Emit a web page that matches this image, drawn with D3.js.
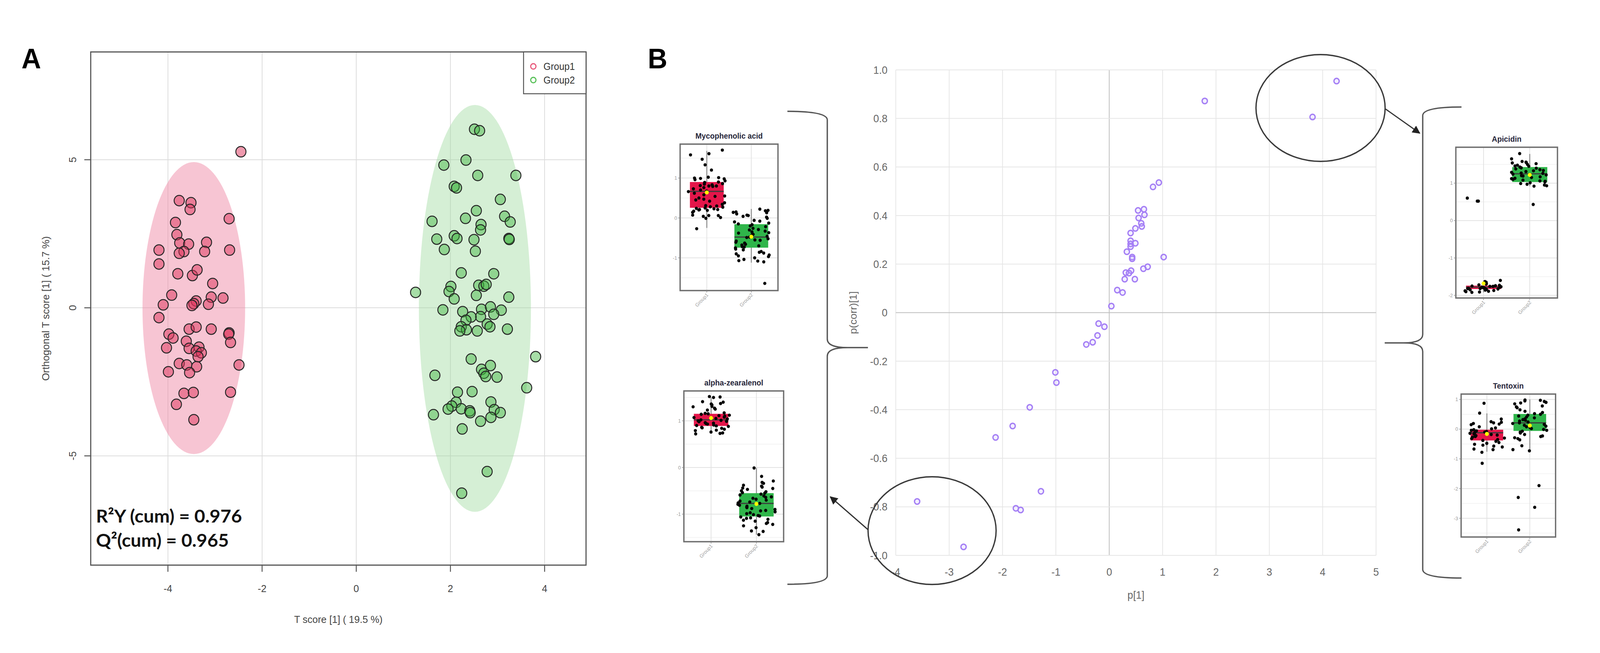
<!DOCTYPE html>
<html><head><meta charset="utf-8">
<script src="https://cdn.jsdelivr.net/npm/d3@7"></script>
<style>html,body{margin:0;padding:0;background:#fff;overflow:hidden;width:100%;height:100%}svg{display:block}</style>
</head><body>
<svg id="c" viewBox="0 0 4251 1672" preserveAspectRatio="none" style="width:100vw;height:100vh"></svg>
<script>
// ===================== DATA =====================
// Panel A : OPLS-DA scores
const groupNames = ["Group1", "Group2"];
const g1T = [-2.45,-3.76,-3.51,-3.53,-2.70,-3.84,-3.81,-3.75,-3.56,-3.18,-4.19,-2.69,-3.66,-3.76,-3.22,-4.19,-3.79,-3.48,-3.38,-3.05,-3.92,-3.08,-2.83,-4.10,-3.40,-3.45,-3.49,-3.14,-4.19,-3.55,-3.40,-3.08,-2.70,-2.71,-3.98,-3.89,-2.67,-3.61,-4.03,-3.55,-3.34,-3.40,-3.29,-3.36,-3.76,-3.60,-3.39,-2.49,-3.99,-3.54,-3.66,-3.46,-2.67,-3.82,-3.45];
const g1O = [5.27,3.62,3.55,3.32,3.01,2.88,2.47,2.19,2.15,2.21,1.95,1.95,1.90,1.84,1.90,1.48,1.15,1.09,1.28,0.82,0.43,0.36,0.33,0.10,0.23,0.14,0.08,0.12,-0.33,-0.72,-0.65,-0.72,-0.85,-0.89,-0.89,-1.02,-1.17,-1.13,-1.35,-1.37,-1.33,-1.46,-1.52,-1.65,-1.88,-1.93,-1.99,-1.93,-2.16,-2.19,-2.89,-2.86,-2.85,-3.26,-3.78];
const g2T = [2.51,2.62,2.33,1.86,2.58,3.39,2.08,2.13,3.06,2.55,1.61,2.32,3.15,3.27,2.65,2.64,2.08,2.14,1.71,2.50,3.24,3.25,1.87,2.53,2.23,2.92,2.60,2.71,2.76,2.01,1.26,1.97,2.08,2.55,3.24,1.84,2.26,2.66,2.85,3.08,2.64,2.92,2.44,2.33,2.23,2.34,2.20,2.57,2.78,2.84,3.21,3.81,2.44,1.67,2.66,2.85,2.71,2.75,2.99,3.62,2.15,2.46,2.12,2.03,1.95,2.23,2.41,2.42,2.86,2.93,3.06,1.64,2.86,2.64,2.25,2.78,2.24];
const g2O = [6.03,5.98,4.99,4.82,4.47,4.47,4.10,4.05,3.66,3.28,2.92,3.02,3.09,2.90,2.81,2.63,2.43,2.34,2.32,2.30,2.34,2.31,1.97,1.91,1.18,1.15,0.76,0.73,0.79,0.72,0.52,0.55,0.30,0.42,0.36,-0.07,-0.13,-0.05,0.03,-0.08,-0.30,-0.22,-0.31,-0.42,-0.64,-0.74,-0.78,-0.78,-0.55,-0.64,-0.72,-1.65,-1.73,-2.28,-2.08,-1.95,-2.21,-2.32,-2.34,-2.70,-2.85,-2.83,-3.19,-3.32,-3.42,-3.41,-3.48,-3.54,-3.18,-3.44,-3.54,-3.61,-3.70,-3.83,-4.09,-5.53,-6.26];
const ellCx = [-3.45, 2.52], ellCy = [-0.01, -0.02], ellRx = [1.09, 1.19], ellRy = [4.93, 6.87];
const ticksAx = [-4, -2, 0, 2, 4];
const ticksAy = [-5, 0, 5];
const statLines = ["R\u00B2Y (cum) = 0.976", "Q\u00B2(cum) = 0.965"];
const labelAx = "T score [1] ( 19.5 %)";
const labelAy = "Orthogonal T score [1] ( 15.7 %)";

// Panel B : S-plot
const pX    = [1.79,4.26,3.81,0.93,0.82,0.54,0.65,0.66,0.55,0.60,0.61,0.49,0.40,0.40,0.40,0.49,0.40,0.33,0.43,0.43,1.02,0.72,0.64,0.31,0.41,0.37,0.29,0.48,0.15,0.25,0.04,-0.20,-0.09,-0.22,-0.31,-0.43,-1.01,-0.99,-1.49,-1.81,-2.13,-1.28,-1.75,-1.66,-3.60,-2.73];
const pCorr = [0.872,0.954,0.806,0.536,0.518,0.421,0.426,0.403,0.390,0.368,0.355,0.347,0.328,0.296,0.283,0.286,0.272,0.251,0.229,0.222,0.229,0.189,0.181,0.165,0.173,0.163,0.138,0.138,0.093,0.083,0.027,-0.045,-0.058,-0.094,-0.122,-0.131,-0.246,-0.288,-0.390,-0.467,-0.514,-0.736,-0.806,-0.813,-0.778,-0.965];
const ticksBx = [-4,-3,-2,-1,0,1,2,3,4,5];
const ticksBy = [-1,-0.8,-0.6,-0.4,-0.2,0,0.2,0.4,0.6,0.8,1];
const circCx = [3.96, -3.32], circCy = [0.843, -0.898], circRx = [1.21, 1.20], circRy = [0.22, 0.222];

// Insets : box plots
const insetNames = ["Mycophenolic acid", "alpha-zearalenol", "Apicidin", "Tentoxin"];
const mycoG1 = [1.70,1.58,1.61,1.47,1.33,1.20,1.00,0.99,1.02,0.98,1.01,0.96,0.93,0.90,0.89,0.86,0.85,0.83,0.81,0.80,0.80,0.79,0.76,0.73,0.70,0.67,0.66,0.62,0.58,0.55,0.54,0.50,0.47,0.45,0.42,0.38,0.34,0.31,0.30,0.28,0.27,0.25,0.24,0.23,0.21,0.20,0.19,0.17,0.14,0.21,0.07,0.06,0.06,0.04,0.01,-0.01,-0.27];
const mycoG2 = [0.22,0.19,0.18,0.15,0.13,0.14,0.10,0.07,0.06,0.04,0.02,-0.01,-0.06,-0.08,-0.10,-0.13,-0.15,-0.17,-0.20,-0.22,-0.26,-0.29,-0.30,-0.33,-0.35,-0.37,-0.38,-0.41,-0.43,-0.46,-0.48,-0.49,-0.52,-0.55,-0.56,-0.58,-0.61,-0.63,-0.66,-0.68,-0.70,-0.72,-0.73,-0.75,-0.78,-0.80,-0.84,-0.86,-0.88,-0.90,-0.93,-0.95,-0.97,-1.00,-1.04,-1.07,-1.08,-1.10,-1.64];
const zearG1 = [1.51,1.50,1.52,1.41,1.40,1.37,1.36,1.34,1.31,1.30,1.27,1.25,1.23,1.17,1.16,1.15,1.14,1.12,1.11,1.10,1.08,1.07,1.05,1.04,1.02,1.01,1.00,0.99,0.98,0.96,0.95,0.94,0.93,0.91,0.90,0.89,0.88,0.86,0.85,0.84,0.82,0.80,0.79,0.76,0.74,0.73,0.72];
const zearG2 = [-0.01,-0.19,-0.29,-0.32,-0.34,-0.38,-0.40,-0.42,-0.44,-0.45,-0.47,-0.50,-0.52,-0.54,-0.55,-0.57,-0.59,-0.61,-0.63,-0.64,-0.66,-0.68,-0.70,-0.72,-0.74,-0.76,-0.77,-0.79,-0.81,-0.83,-0.85,-0.86,-0.88,-0.90,-0.92,-0.93,-0.95,-0.97,-0.99,-1.01,-1.03,-1.04,-1.06,-1.08,-1.09,-1.11,-1.13,-1.15,-1.18,-1.20,-1.22,-1.25,-1.29,-1.36,-1.37,-1.44];
const apiG1 = [0.60,0.52,0.52,-1.60,-1.63,-1.65,-1.67,-1.69,-1.70,-1.72,-1.73,-1.74,-1.75,-1.76,-1.76,-1.77,-1.78,-1.78,-1.79,-1.80,-1.80,-1.81,-1.82,-1.82,-1.83,-1.84,-1.85,-1.86,-1.87,-1.88,-1.89,-1.90,-1.91,-1.92];
const apiG2 = [1.79,1.65,1.58,1.56,1.55,1.54,1.52,1.50,1.48,1.46,1.45,1.43,1.41,1.40,1.38,1.36,1.34,1.33,1.31,1.29,1.27,1.26,1.24,1.22,1.20,1.19,1.17,1.15,1.13,1.12,1.10,1.08,1.06,1.05,1.03,1.01,0.99,0.97,0.95,0.93,0.92,0.43];
const tenG1 = [0.87,0.54,0.34,0.25,0.23,0.21,0.19,0.17,0.15,0.08,0.04,0.01,-0.02,-0.04,-0.06,-0.08,-0.10,-0.12,-0.14,-0.16,-0.18,-0.20,-0.22,-0.25,-0.27,-0.30,-0.32,-0.35,-0.38,-0.41,-0.45,-0.48,-0.51,-0.54,-0.57,-0.60,-0.67,-0.69,-0.78,-1.15];
const tenG2 = [0.98,0.97,0.95,0.93,0.90,0.88,0.85,0.78,0.75,0.72,0.65,0.60,0.56,0.52,0.50,0.47,0.44,0.41,0.38,0.35,0.32,0.30,0.27,0.24,0.21,0.19,0.16,0.13,0.10,0.08,0.05,0.02,-0.01,-0.04,-0.07,-0.10,-0.13,-0.18,-0.23,-0.25,-0.29,-0.32,-0.36,-0.56,-0.69,-0.73,-1.90,-2.30,-2.63,-3.39];
const insetQ1   = [[0.255,-0.745],[0.89,-1.05],[-1.83,1.03],[-0.38,-0.06]];
const insetMed  = [[0.667,-0.48],[1.02,-0.77],[-1.78,1.25],[-0.12,0.21]];
const insetQ3   = [[0.90,-0.157],[1.15,-0.55],[-1.74,1.43],[-0.02,0.51]];
const insetLo   = [[-0.25,-1.12],[0.78,-1.44],[-1.92,0.92],[-0.76,-0.73]];
const insetHi   = [[1.68,0.225],[1.50,-0.01],[-1.60,1.78],[0.53,1.00]];
const insetMean = [[0.64,-0.47],[1.06,-0.78],[-1.68,1.22],[-0.16,0.12]];
const insetTicks = [[-1,0,1],[-1,0,1],[-2,-1,0,1],[-3,-2,-1,0,1]];
const insetDomains = [[-1.82,1.85],[-1.59,1.64],[-2.07,1.96],[-3.63,1.18]];

// ===================== LAYOUT =====================
const svg = d3.select("#c");
const SANS = "'Liberation Sans', Arial, sans-serif";

// ---------- Panel labels ----------
svg.append("text").attr("x",83).attr("y",175).attr("text-anchor","middle")
  .attr("font-family",SANS).attr("font-weight","bold").attr("font-size",72).text("A");
svg.append("text").attr("x",1747).attr("y",175).attr("text-anchor","middle")
  .attr("font-family",SANS).attr("font-weight","bold").attr("font-size",72).text("B");

// ---------- Panel A ----------
(function(){
  const L=241,R=1557,T=133,B=1447;
  const x=d3.scaleLinear().domain([-5.64,4.88]).range([L,R]);
  const y=d3.scaleLinear().domain([-8.69,8.64]).range([B,T]);
  const g=svg.append("g");
  g.selectAll(".gx").data(ticksAx).join("line").attr("x1",d=>x(d)).attr("x2",d=>x(d))
    .attr("y1",T).attr("y2",B).attr("stroke","#dcdcdc").attr("stroke-width",2);
  g.selectAll(".gy").data(ticksAy).join("line").attr("y1",d=>y(d)).attr("y2",d=>y(d))
    .attr("x1",L).attr("x2",R).attr("stroke","#dcdcdc").attr("stroke-width",2);
  const ellFill=["#ee86a2","#9ad89a"], ellOp=[0.48,0.42];
  g.selectAll(".ell").data(d3.range(2)).join("ellipse")
    .attr("cx",i=>x(ellCx[i])).attr("cy",i=>y(ellCy[i]))
    .attr("rx",i=>x(ellCx[i]+ellRx[i])-x(ellCx[i]))
    .attr("ry",i=>y(ellCy[i])-y(ellCy[i]+ellRy[i]))
    .attr("fill",i=>ellFill[i]).attr("fill-opacity",i=>ellOp[i]);
  const pts=[{t:g1T,o:g1O,c:"rgba(222,52,92,0.5)"},{t:g2T,o:g2O,c:"rgba(60,180,60,0.45)"}];
  pts.forEach(s=>{
    g.selectAll(null).data(d3.range(s.t.length)).join("circle")
      .attr("cx",i=>x(s.t[i])).attr("cy",i=>y(s.o[i])).attr("r",13.5)
      .attr("fill",s.c).attr("stroke","#262626").attr("stroke-width",2.5);
  });
  g.append("rect").attr("x",L).attr("y",T).attr("width",R-L).attr("height",B-T)
    .attr("fill","none").attr("stroke","#555").attr("stroke-width",3);
  g.selectAll(".tx").data(ticksAx).join("line").attr("x1",d=>x(d)).attr("x2",d=>x(d))
    .attr("y1",B).attr("y2",B+17).attr("stroke","#555").attr("stroke-width",2.5);
  g.selectAll(".ty").data(ticksAy).join("line").attr("y1",d=>y(d)).attr("y2",d=>y(d))
    .attr("x1",L).attr("x2",L-17).attr("stroke","#555").attr("stroke-width",2.5);
  g.selectAll(".lx").data(ticksAx).join("text").attr("x",d=>x(d)).attr("y",1516)
    .attr("text-anchor","middle").attr("font-family",SANS).attr("font-size",26).attr("fill","#444")
    .text(d=>d<0?"-"+Math.abs(d):d);
  g.selectAll(".ly").data(ticksAy).join("text")
    .attr("transform",d=>`translate(202,${y(d)}) rotate(-90)`)
    .attr("text-anchor","middle").attr("font-family",SANS).attr("font-size",26).attr("fill","#444")
    .text(d=>d<0?"-"+Math.abs(d):d);
  g.append("text").attr("x",(L+R)/2).attr("y",1595).attr("text-anchor","middle")
    .attr("font-family",SANS).attr("font-size",26).attr("fill","#444").text(labelAx);
  g.append("text").attr("transform",`translate(131,${(T+B)/2}) rotate(-90)`).attr("text-anchor","middle")
    .attr("font-family",SANS).attr("font-size",26).attr("fill","#444").text(labelAy);
  const stW=[388,353];
  statLines.forEach((s,i)=>{
    g.append("text").attr("x",255).attr("y",1338+i*62).attr("font-family","Lato, 'Open Sans', sans-serif")
      .attr("font-weight",700).attr("font-size",46).attr("fill","#111")
      .attr("textLength",stW[i]).attr("lengthAdjust","spacingAndGlyphs").text(s);
  });
  g.append("rect").attr("x",1391).attr("y",T).attr("width",R-1391).attr("height",107)
    .attr("fill","#fff").attr("stroke","#555").attr("stroke-width",2.5);
  const legC=["#e8587a","#57c057"];
  groupNames.forEach((n,i)=>{
    g.append("circle").attr("cx",1417).attr("cy",170+i*35).attr("r",7)
      .attr("fill","none").attr("stroke",legC[i]).attr("stroke-width",3);
    g.append("text").attr("x",1444).attr("y",179+i*35).attr("font-family",SANS)
      .attr("font-size",25).attr("fill","#333").text(n);
  });
})();

// ---------- Panel B ----------
(function(){
  const L=2380,R=3656,T=179,B=1422;
  const x=d3.scaleLinear().domain([-4,5]).range([L,R]);
  const y=d3.scaleLinear().domain([-1,1]).range([B,T]);
  const g=svg.append("g");
  g.selectAll(".gx").data(ticksBx).join("line").attr("x1",d=>x(d)).attr("x2",d=>x(d))
    .attr("y1",T).attr("y2",B).attr("stroke",d=>d===0?"#bdbdbd":"#e6e6e6").attr("stroke-width",2);
  g.selectAll(".gy").data(ticksBy).join("line").attr("y1",d=>y(d)).attr("y2",d=>y(d))
    .attr("x1",L).attr("x2",R).attr("stroke",d=>Math.abs(d)<1e-9?"#bdbdbd":"#e6e6e6").attr("stroke-width",2);
  const fmtY=d=>Math.abs(d)<1e-9?"0":d3.format(".1f")(d).replace("\u2212","-");
  g.selectAll(".ly").data(ticksBy).join("text").attr("x",L-22).attr("y",d=>y(d)).attr("dy","0.36em")
    .attr("text-anchor","end").attr("font-family",SANS).attr("font-size",27).attr("fill","#666").text(fmtY);
  g.selectAll(".lx").data(ticksBx).join("text").attr("x",d=>x(d)).attr("y",1464).attr("dy","0.36em")
    .attr("text-anchor","middle").attr("font-family",SANS).attr("font-size",27).attr("fill","#666")
    .text(d=>d<0?"-"+Math.abs(d):d);
  g.append("text").attr("x",(L+R)/2).attr("y",1523).attr("dy","0.36em").attr("text-anchor","middle")
    .attr("font-family",SANS).attr("font-size",27).attr("fill","#666").text("p[1]");
  g.append("text").attr("transform",`translate(2266,${(T+B)/2}) rotate(-90)`).attr("dy","0.36em")
    .attr("text-anchor","middle").attr("font-family",SANS).attr("font-size",27).attr("fill","#666").text("p(corr)[1]");
  g.selectAll(".pt").data(d3.range(pX.length)).join("circle")
    .attr("cx",i=>x(pX[i])).attr("cy",i=>y(pCorr[i])).attr("r",7)
    .attr("fill","rgba(190,165,255,0.18)").attr("stroke","#a47ef5").attr("stroke-width",3.5);
  g.selectAll(".ann").data(d3.range(2)).join("ellipse")
    .attr("cx",i=>x(circCx[i])).attr("cy",i=>y(circCy[i]))
    .attr("rx",i=>x(circCx[i]+circRx[i])-x(circCx[i]))
    .attr("ry",i=>y(circCy[i])-y(circCy[i]+circRy[i]))
    .attr("fill","none").attr("stroke","#3a3a3a").attr("stroke-width",3.5);
})();

// ---------- arrows & braces ----------
(function(){
  const defs=svg.append("defs");
  defs.append("marker").attr("id","ah").attr("viewBox","0 0 10 10").attr("refX",9).attr("refY",5)
    .attr("markerWidth",7).attr("markerHeight",7).attr("orient","auto").attr("markerUnits","strokeWidth")
    .append("path").attr("d","M0,0 L10,5 L0,10 z").attr("fill","#222");
  const arrows=[[3681,279,3772,341],[2306,1356,2206,1272]];
  arrows.forEach(a=>svg.append("line").attr("x1",a[0]).attr("y1",a[1]).attr("x2",a[2]).attr("y2",a[3])
    .attr("stroke","#333").attr("stroke-width",3).attr("marker-end","url(#ah)"));
  function brace(xe,xv,xt,yt,yb,ym){
    const d=`M${xe},${yt} Q${xv},${yt} ${xv},${yt+22} L${xv},${ym-22} Q${xv},${ym} ${(xv+xt)/2},${ym} L${xt},${ym}`+
      ` M${xt},${ym} L${(xv+xt)/2},${ym} Q${xv},${ym} ${xv},${ym+22} L${xv},${yb-22} Q${xv},${yb} ${xe},${yb}`;
    svg.append("path").attr("d",d).attr("fill","none").attr("stroke","#555").attr("stroke-width",3.5);
  }
  brace(2092,2198,2306,285,1496,890);
  brace(3883,3780,3679,274,1480,878);
})();

// ---------- Insets ----------
(function(){
  const boxes=[[1807,369,2067,744],[1817,1001,2082,1387],[3868,377,4138,763],[3882,1009,4133,1375]];
  const vals=[[mycoG1,mycoG2],[zearG1,zearG2],[apiG1,apiG2],[tenG1,tenG2]];
  const fills=["#e4164a","#2fb54a"];
  // deterministic jitter (horizontal spread only, like geom_jitter)
  const jit=(i,k,j)=>{const s=Math.sin((i+1)*12.9898+k*78.233+j*37.719)*43758.5453;return (s-Math.floor(s))-0.5;};
  boxes.forEach((b,k)=>{
    const [x0,y0,x1,y1]=b;
    const g=svg.append("g");
    const x=d3.scalePoint().domain(groupNames).range([x0,x1]).padding(0.6);
    const y=d3.scaleLinear().domain(insetDomains[k]).range([y1,y0]);
    const step=x.step(), bw=0.76*step;
    const tk=insetTicks[k];
    const minor=tk.map(t=>t+0.5).concat([tk[0]-0.5]).filter(v=>v>insetDomains[k][0]&&v<insetDomains[k][1]);
    g.append("rect").attr("x",x0).attr("y",y0).attr("width",x1-x0).attr("height",y1-y0).attr("fill","#fff");
    g.selectAll(".mn").data(minor).join("line").attr("x1",x0).attr("x2",x1).attr("y1",d=>y(d)).attr("y2",d=>y(d))
      .attr("stroke","#f0f0f0").attr("stroke-width",1.5);
    g.selectAll(".mj").data(tk).join("line").attr("x1",x0).attr("x2",x1).attr("y1",d=>y(d)).attr("y2",d=>y(d))
      .attr("stroke","#e2e2e2").attr("stroke-width",2);
    g.selectAll(".vg").data(groupNames).join("line").attr("x1",d=>x(d)).attr("x2",d=>x(d)).attr("y1",y0).attr("y2",y1)
      .attr("stroke","#e2e2e2").attr("stroke-width",2);
    groupNames.forEach((n,j)=>{
      const cx=x(n);
      g.append("line").attr("x1",cx).attr("x2",cx).attr("y1",y(insetHi[k][j])).attr("y2",y(insetLo[k][j]))
        .attr("stroke","#8a8a8a").attr("stroke-width",2.5);
      g.append("rect").attr("x",cx-bw/2).attr("width",bw).attr("y",y(insetQ3[k][j]))
        .attr("height",y(insetQ1[k][j])-y(insetQ3[k][j])).attr("fill",fills[j]);
      g.append("line").attr("x1",cx-bw/2).attr("x2",cx+bw/2).attr("y1",y(insetMed[k][j])).attr("y2",y(insetMed[k][j]))
        .attr("stroke","#3c3c3c").attr("stroke-width",3);
      const v=vals[k][j];
      g.selectAll(null).data(d3.range(v.length)).join("circle")
        .attr("cx",i=>cx+jit(i,k,j)*(bw+8))
        .attr("cy",i=>y(v[i])).attr("r",4.2).attr("fill","#050505");
      g.append("circle").attr("cx",cx).attr("cy",y(insetMean[k][j])).attr("r",5.2).attr("fill","#ffff00");
    });
    g.append("rect").attr("x",x0).attr("y",y0).attr("width",x1-x0).attr("height",y1-y0)
      .attr("fill","none").attr("stroke","#6e6e6e").attr("stroke-width",3.5);
    g.selectAll(".ytk").data(tk).join("line").attr("x1",x0-5).attr("x2",x0).attr("y1",d=>y(d)).attr("y2",d=>y(d))
      .attr("stroke","#888").attr("stroke-width",1.5);
    g.selectAll(".ylb").data(tk).join("text").attr("x",x0-8).attr("y",d=>y(d)).attr("dy","0.35em")
      .attr("text-anchor","end").attr("font-family",SANS).attr("font-size",13).attr("fill","#9a9a9a")
      .text(d=>d<0?"-"+Math.abs(d):d);
    g.selectAll(".xtk").data(groupNames).join("line").attr("x1",d=>x(d)).attr("x2",d=>x(d)).attr("y1",y1).attr("y2",y1+5)
      .attr("stroke","#888").attr("stroke-width",1.5);
    g.selectAll(".xlb").data(groupNames).join("text")
      .attr("transform",d=>`translate(${x(d)+5},${y1+12}) rotate(-45)`)
      .attr("text-anchor","end").attr("font-family",SANS).attr("font-size",13).attr("fill","#a0a0a0").text(d=>d);
    g.append("text").attr("x",(x0+x1)/2).attr("y",y0-14).attr("text-anchor","middle")
      .attr("font-family",SANS).attr("font-weight","bold").attr("font-size",20).attr("fill","#26263a")
      .text(insetNames[k]);
  });
})();
</script>
</body></html>
